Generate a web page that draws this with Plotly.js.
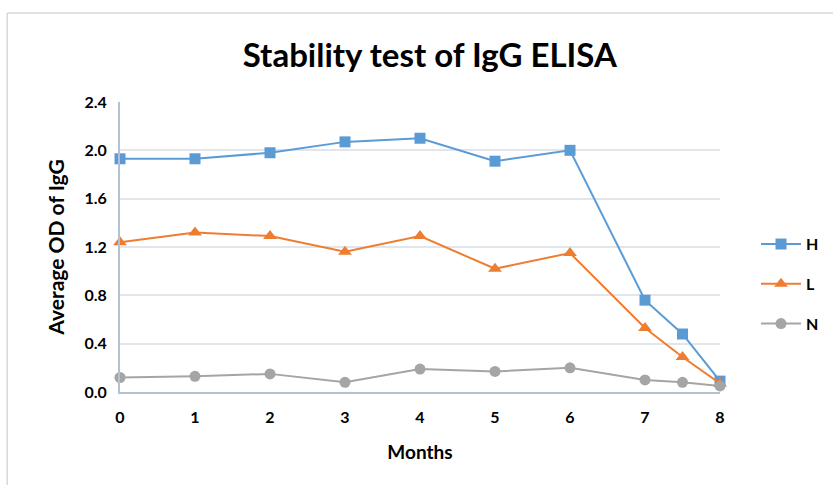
<!DOCTYPE html>
<html><head><meta charset="utf-8">
<script src="https://cdn.plot.ly/plotly-3.0.1.min.js"></script>
<style>html,body{margin:0;padding:0;background:#fff}#c{width:833px;height:485px}</style>
</head><body><div id="c"></div>
<script>
const months = [0, 1, 2, 3, 4, 5, 6, 7, 7.5, 8];
const H = [1.93, 1.93, 1.98, 2.07, 2.10, 1.91, 2.00, 0.76, 0.48, 0.09];
const L = [1.24, 1.32, 1.29, 1.16, 1.29, 1.02, 1.15, 0.53, 0.29, 0.07];
const N = [0.12, 0.13, 0.15, 0.08, 0.19, 0.17, 0.20, 0.10, 0.08, 0.05];
const xTicks = [0, 1, 2, 3, 4, 5, 6, 7, 8];
const yTicks = [0, 0.4, 0.8, 1.2, 1.6, 2.0, 2.4];

const F = "Lato, 'Open Sans', sans-serif";
function tr(name, y, color, symbol, size) {
  return {x: months, y: y, name: name, legendgroup: name, mode: 'lines+markers', type: 'scatter',
    line: {color: color, width: 2}, marker: {color: color, symbol: symbol, size: size},
    cliponaxis: false};
}
const data = [
  tr('H', H, '#5b9bd5', 'square', 11),
  tr('L', L, '#ed7d31', 'triangle-up', 12),
  tr('N', N, '#a5a5a5', 'circle', 11)
];
const layout = {
  width: 833, height: 485,
  margin: {l: 120, r: 113, t: 102, b: 93, autoexpand: false},
  paper_bgcolor: '#fff', plot_bgcolor: '#fff',
  title: {text: '<b>Stability test of IgG ELISA</b>', font: {family: F, size: 33, color: '#000'},
    x: 0.516, xref: 'container', xanchor: 'center', y: 0.885, yanchor: 'middle'},
  xaxis: {range: [0, 8], tickvals: xTicks, ticktext: xTicks.map(String),
    showgrid: false, zeroline: false, showline: true, linecolor: '#b4c0d4', linewidth: 2,
    ticks: '', tickfont: {family: F, size: 16, color: '#000', weight: 'bold'},
    ticklabelstandoff: 10,
    title: {text: '<b>Months</b>', font: {family: F, size: 19, color: '#000'}, standoff: 20}},
  yaxis: {range: [0, 2.4], tickvals: yTicks, ticktext: yTicks.map(v => v.toFixed(1)),
    showgrid: true, gridcolor: '#e1e5ec', gridwidth: 2, zeroline: false,
    showline: true, linecolor: '#b4c0d4', linewidth: 2, ticks: '',
    tickfont: {family: F, size: 16, color: '#000', weight: 'bold'}, ticklabelstandoff: 8,
    title: {text: '<b>Average OD of IgG</b>', font: {family: F, size: 21, color: '#000'}, standoff: 14}},
  legend: {x: 1.06, y: 0.372, xanchor: 'left', yanchor: 'middle',
    font: {family: F, size: 16, color: '#000', weight: 'bold'}, tracegroupgap: 16,
    itemwidth: 40},
  showlegend: true,
  shapes: [
    {type: 'line', xref: 'paper', yref: 'paper', x0: -0.188, x1: -0.188, y0: 1.307, y1: -0.35,
      line: {color: '#d9d9d9', width: 1.5}},
    {type: 'line', xref: 'paper', yref: 'paper', x0: -0.188, x1: 1.3, y0: 1.307, y1: 1.307,
      line: {color: '#d9d9d9', width: 1.5}}
  ]
};
Plotly.newPlot('c', data, layout, {displayModeBar: false, staticPlot: true});
</script></body></html>
